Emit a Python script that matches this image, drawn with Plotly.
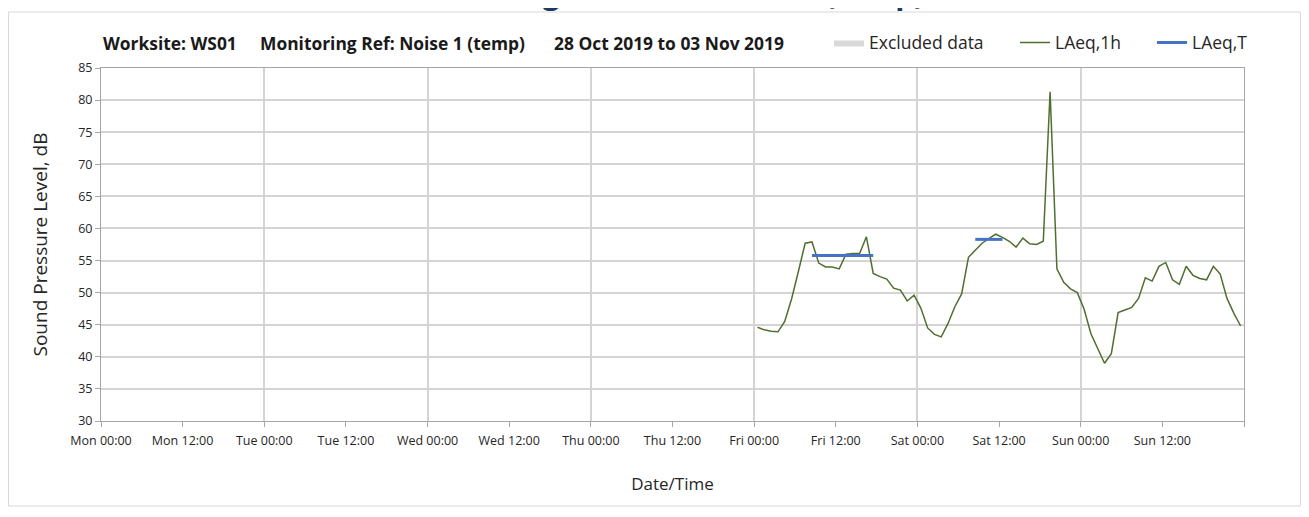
import plotly.graph_objects as go
import pandas as pd

# ---------------- data ----------------
start_time = "2019-11-01 00:30"
laeq_1h = [44.6, 44.2, 44.0, 43.9, 45.5, 49.0, 53.3, 57.7, 57.9, 54.6,
           54.0, 54.0, 53.7, 56.0, 56.1, 56.1, 58.7, 53.0, 52.5, 52.1,
           50.7, 50.4, 48.7, 49.6, 47.6, 44.5, 43.5, 43.1, 45.2, 47.8,
           49.8, 55.5, 56.6, 57.7, 58.4, 59.1, 58.6, 58.0, 57.1, 58.5,
           57.6, 57.5, 58.0, 81.3, 53.7, 51.6, 50.6, 50.0, 47.4, 43.6,
           41.3, 39.0, 40.5, 46.9, 47.3, 47.7, 49.1, 52.3, 51.8, 54.1,
           54.7, 52.0, 51.3, 54.1, 52.7, 52.2, 52.0, 54.1, 52.9, 49.1,
           46.8, 44.8]
laeq_1h_times = pd.date_range(start_time, periods=len(laeq_1h), freq="h")

laeq_t_times = ["2019-11-01 08:30", "2019-11-01 17:30", None,
                "2019-11-02 08:30", "2019-11-02 12:30"]
laeq_t = [55.8, 55.8, None, 58.3, 58.3]

x_range = ["2019-10-28 00:00", "2019-11-04 00:00"]
y_range = [30, 85]
x_tick_vals = pd.date_range(x_range[0], x_range[1], freq="12h")
x_tick_text = ["Mon 00:00", "Mon 12:00", "Tue 00:00", "Tue 12:00",
               "Wed 00:00", "Wed 12:00", "Thu 00:00", "Thu 12:00",
               "Fri 00:00", "Fri 12:00", "Sat 00:00", "Sat 12:00",
               "Sun 00:00", "Sun 12:00", ""]

header_parts = ["Worksite: WS01", "Monitoring Ref: Noise 1 (temp)",
                "28 Oct 2019 to 03 Nov 2019"]

# ---------------- geometry (page pixels; page has an 8px body margin) ----
OFF = 8
W, H = 1309 - OFF, 517 - OFF
plot_left, plot_right, plot_top, plot_bottom = 101, 1244, 68, 421
L = plot_left - OFF
R = W - (plot_right - OFF)
T = plot_top - OFF
B = H - (plot_bottom - OFF)
pw, ph = W - L - R, H - T - B


def px_x(p):
    return (p - OFF - L) / pw


def px_y(p):
    return (H - B - (p - OFF)) / ph


fig = go.Figure()

fig.add_trace(go.Scatter(
    x=[None], y=[None], mode="lines", fill="toself",
    fillcolor="#D9D9D9", line=dict(width=0, color="#D9D9D9"),
    name="Excluded data", legend="legend"))

fig.add_trace(go.Scatter(
    x=laeq_1h_times, y=laeq_1h, mode="lines",
    line=dict(color="#4F6F30", width=1.5),
    name="LAeq,1h", legend="legend2"))

fig.add_trace(go.Scatter(
    x=pd.to_datetime(laeq_t_times), y=laeq_t, mode="lines",
    line=dict(color="#4472C4", width=3),
    connectgaps=False, name="LAeq,T", legend="legend3"))

# invisible trace on overlay axis carrying the 24h vertical gridlines
fig.add_trace(go.Scatter(x=[x_range[0]], y=[y_range[0]], mode="markers",
                         marker=dict(opacity=0), xaxis="x2",
                         showlegend=False, hoverinfo="skip"))

font_main = "Open Sans"
txt_col = "#262626"

leg_common = dict(orientation="h", xanchor="left", yanchor="middle",
                  font=dict(size=17.5, color=txt_col),
                  bgcolor="rgba(0,0,0,0)", itemwidth=30)

fig.update_layout(
    width=W, height=H,
    margin=dict(l=L, r=R, t=T, b=B),
    paper_bgcolor="white", plot_bgcolor="white",
    font=dict(family=font_main, color=txt_col),
    xaxis=dict(
        type="date", range=x_range, tickmode="array",
        tickvals=x_tick_vals, ticktext=x_tick_text,
        showgrid=False, ticks="outside", ticklen=5, tickcolor="#A6A6A6",
        ticklabelstandoff=3,
        showline=True, linecolor="#A6A6A6", linewidth=1, mirror=True,
        tickfont=dict(size=12.5, color=txt_col),
        title=dict(text="Date/Time", font=dict(size=17, color=txt_col),
                   standoff=30),
        zeroline=False),
    xaxis2=dict(
        type="date", range=x_range, overlaying="x", matches="x",
        dtick=24 * 3600 * 1000, tick0="2019-10-28 00:00",
        showgrid=True, gridcolor="#D4D4D4", gridwidth=1.5,
        showticklabels=False, ticks="", showline=False, zeroline=False),
    yaxis=dict(
        range=y_range, dtick=5, tick0=30,
        showgrid=True, gridcolor="#D4D4D4", gridwidth=1.5,
        ticks="outside", ticklen=5, tickcolor="#A6A6A6",
        showline=True, linecolor="#A6A6A6", linewidth=1, mirror=True,
        tickfont=dict(size=12.5, color=txt_col),
        title=dict(text="Sound Pressure Level, dB",
                   font=dict(size=19, color=txt_col), standoff=25),
        zeroline=False),
    showlegend=True,
    legend=dict(x=px_x(829), y=px_y(42.5), **leg_common),
    legend2=dict(x=px_x(1015), y=px_y(42.5), **leg_common),
    legend3=dict(x=px_x(1152), y=px_y(42.5), **leg_common),
)

# header texts
header_x = [101, 258, 552]
for txt, hx in zip(header_parts, header_x):
    fig.add_annotation(text="<b>" + txt + "</b>", xref="paper", yref="paper",
                       x=px_x(hx), y=px_y(43), xanchor="left", yanchor="middle",
                       showarrow=False,
                       font=dict(size=17.4, color="#1A1A1A", family=font_main))

# clipped report title at very top of the page
fig.add_annotation(text="<b>Monitoring Results – Noise 1 (temp)</b>",
                   xref="paper", yref="paper", x=px_x(658), y=px_y(15),
                   xanchor="center", yanchor="bottom", showarrow=False,
                   font=dict(size=30, color="#1F3864", family=font_main))

# outer chart border
fig.add_shape(type="rect", xref="paper", yref="paper",
              x0=px_x(8.5), x1=px_x(1300.5), y0=px_y(506), y1=px_y(12),
              line=dict(color="#D9D9D9", width=1), fillcolor="rgba(0,0,0,0)",
              layer="below")

fig.write_html("out.html")
